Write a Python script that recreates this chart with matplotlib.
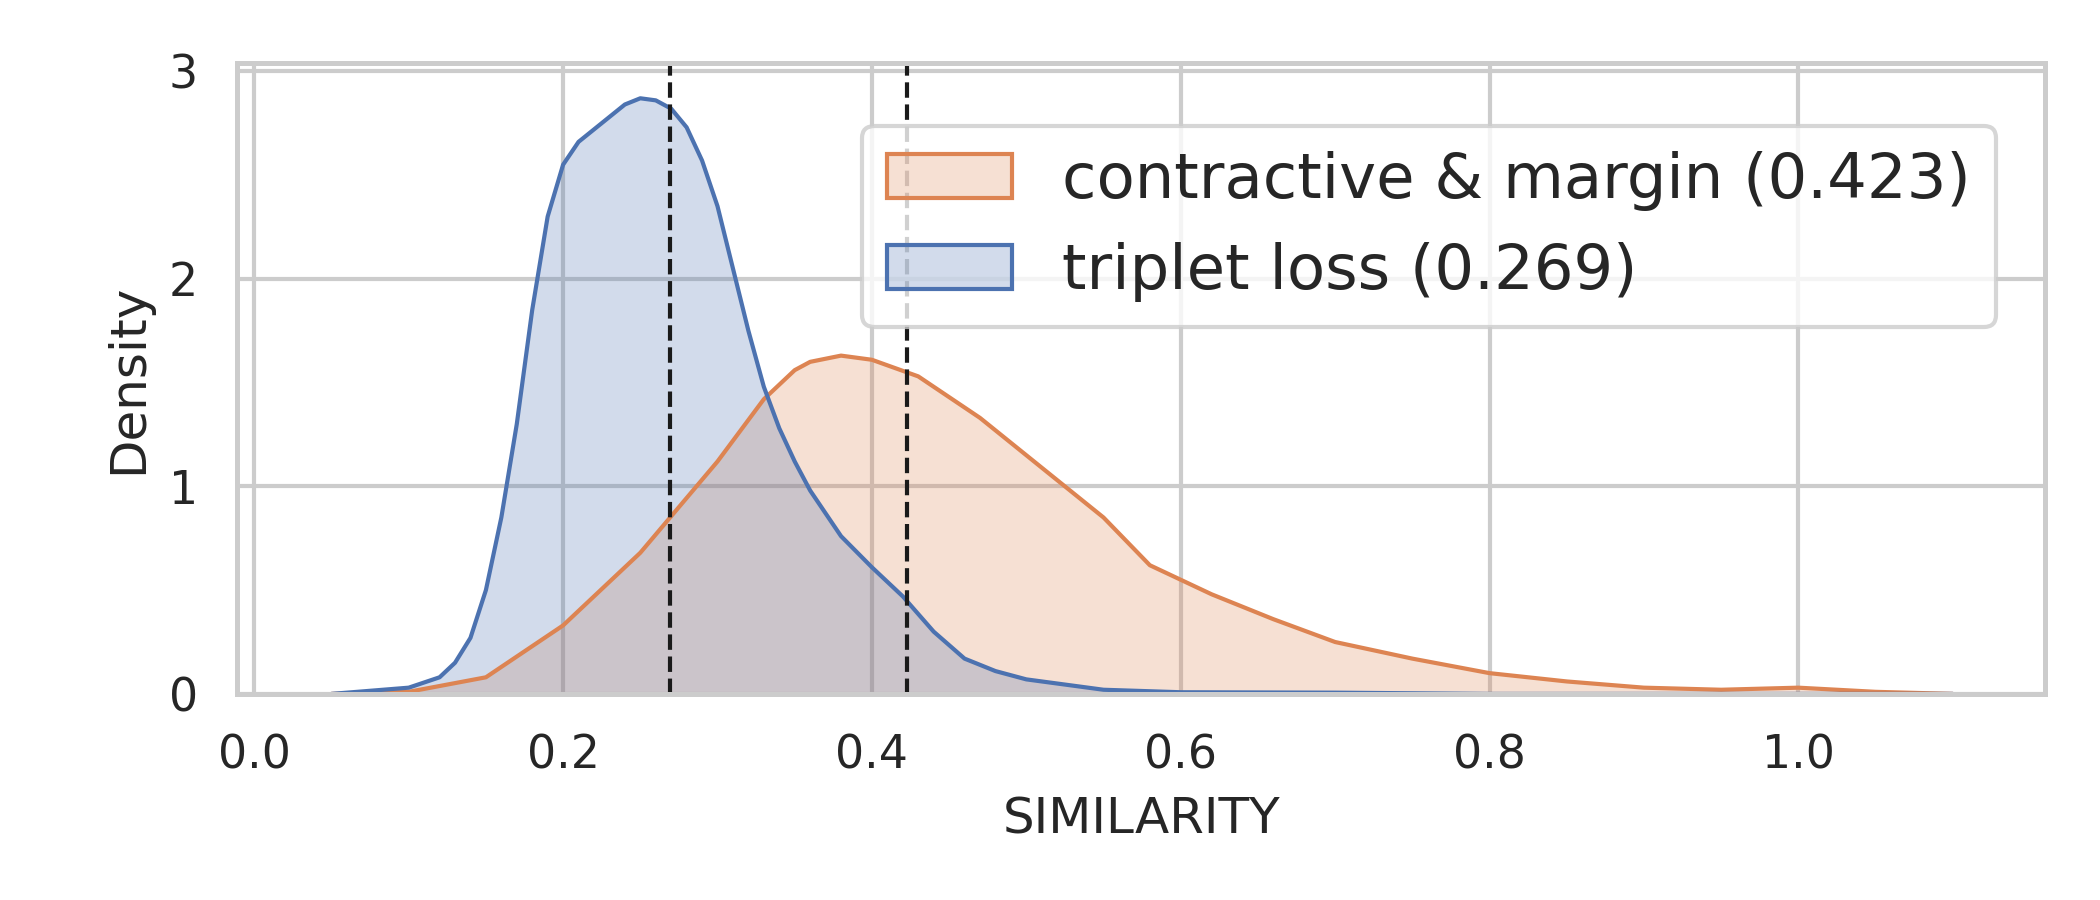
import numpy as np
import matplotlib.pyplot as plt
import seaborn as sns
from matplotlib.patches import Patch

blue_x = [0.05, 0.10, 0.12, 0.13, 0.14, 0.15, 0.16, 0.17, 0.18, 0.19, 0.20, 0.21, 0.22, 0.23, 0.24, 0.25,
          0.26, 0.27, 0.28, 0.29, 0.30, 0.31, 0.32, 0.33, 0.34, 0.35, 0.36, 0.38, 0.40, 0.42, 0.44, 0.46,
          0.48, 0.50, 0.55, 0.60, 0.70, 0.80, 1.10]
blue_y = [0.0, 0.03, 0.08, 0.15, 0.27, 0.5, 0.85, 1.3, 1.85, 2.3, 2.55, 2.66, 2.72, 2.78, 2.84, 2.87,
          2.86, 2.82, 2.73, 2.57, 2.35, 2.05, 1.75, 1.48, 1.28, 1.12, 0.98, 0.76, 0.61, 0.47, 0.3, 0.17,
          0.11, 0.07, 0.02, 0.008, 0.006, 0.0, 0.0]
orange_x = [0.05, 0.10, 0.15, 0.20, 0.25, 0.30, 0.33, 0.35, 0.36, 0.38, 0.40, 0.43, 0.47, 0.50, 0.55,
            0.58, 0.62, 0.66, 0.70, 0.75, 0.80, 0.85, 0.90, 0.95, 1.00, 1.05, 1.10]
orange_y = [0.0, 0.01, 0.08, 0.33, 0.68, 1.12, 1.42, 1.56, 1.6, 1.63, 1.61, 1.53, 1.33, 1.15, 0.85,
            0.62, 0.48, 0.36, 0.25, 0.17, 0.10, 0.06, 0.03, 0.02, 0.03, 0.01, 0.0]
means = [0.269, 0.423]
labels = ["contractive & margin (0.423)", "triplet loss (0.269)"]

sns.set_theme(style="whitegrid")
c_blue, c_orange = sns.color_palette()[0], sns.color_palette()[1]

fig, ax = plt.subplots(figsize=(7, 3), dpi=300)
ax.fill_between(orange_x, orange_y, color=c_orange, alpha=0.25, lw=0)
ax.plot(orange_x, orange_y, color=c_orange, lw=1)
ax.fill_between(blue_x, blue_y, color=c_blue, alpha=0.25, lw=0)
ax.plot(blue_x, blue_y, color=c_blue, lw=1)
for m in means:
    ax.axvline(m, color="k", ls="--", lw=1)

ax.set_xlim(-0.011, 1.16)
ax.set_ylim(0, 3.04)
ax.set_yticks([0, 1, 2, 3])
ax.set_xlabel("SIMILARITY")
ax.set_ylabel("Density")
for s in ax.spines.values():
    s.set_visible(True)
    s.set_color("#cccccc")
    s.set_linewidth(1.2)

handles = [Patch(facecolor=(*c_orange, 0.25), edgecolor=c_orange, label=labels[0]),
           Patch(facecolor=(*c_blue, 0.25), edgecolor=c_blue, label=labels[1])]
ax.legend(handles=handles, loc="upper right", bbox_to_anchor=(0.99, 0.95), fontsize=15)

fig.subplots_adjust(left=0.113, right=0.974, top=0.930, bottom=0.229)
fig.savefig("out.png")
